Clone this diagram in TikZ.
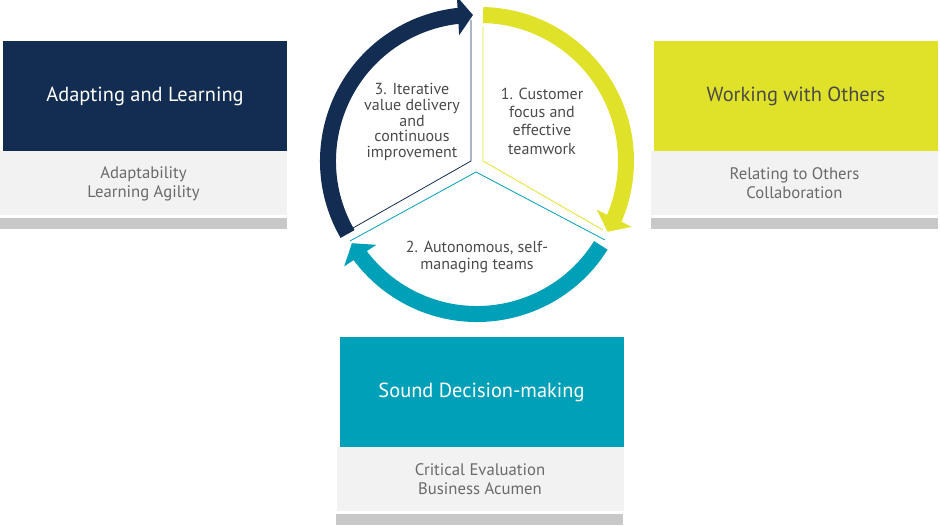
\documentclass[tikz,border=0pt]{standalone}
\usepackage{fontspec}
\setmainfont{PT Sans}
\usetikzlibrary{arrows.meta,bending,positioning}
\definecolor{navy}{HTML}{132D52}
\definecolor{lime}{HTML}{E0E22A}
\definecolor{tealblue}{HTML}{00A0B8}
\definecolor{paleg}{HTML}{F2F2F2}
\definecolor{barg}{HTML}{C8C8C8}
\definecolor{txtg}{HTML}{6A6A6A}
\definecolor{darkg}{HTML}{4A4A4A}

\begin{document}
\begin{tikzpicture}[
    x=1pt, y=1pt,
    head/.style={minimum width=284pt, minimum height=110pt, inner sep=0pt,
      font=\fontsize{20.4}{24}\selectfont},
    sub/.style={fill=paleg, minimum width=287pt, minimum height=64pt, inner sep=0pt,
      align=center, text=txtg, font=\fontsize{16.7}{19}\selectfont},
    ring/.style={line width=16pt, -{Triangle[width=38pt,length=15pt]}},
    edge/.style={line width=0.8pt},
    cyc/.style={align=center, text=darkg, font=\fontsize{16}{15.8}\selectfont}]
    \useasboundingbox (0,0) rectangle (940,525);

    % competency boxes
    \node[head, fill=navy, text=white] (adapt) at (145,429) {Adapting and Learning};
    \node[sub, anchor=north east] (adaptsub) at (adapt.south east) {Adaptability\\Learning Agility};
    \fill[barg] ([yshift=-2pt]adaptsub.south west) rectangle ++(287,-11);

    \node[head, fill=lime, text=darkg] (work) at (796,429) {Working with Others};
    \node[sub, anchor=north east] (worksub) at (work.south east) {Relating to Others\\Collaboration};
    \fill[barg] ([yshift=-2pt]worksub.south west) rectangle ++(287,-11);

    \node[head, fill=tealblue, text=white] (sound) at (481.5,133) {Sound Decision-making};
    \node[sub, anchor=north east] (soundsub) at (sound.south east) {Critical Evaluation\\Business Acumen};
    \fill[barg] ([yshift=-2pt]soundsub.south west) rectangle ++(287,-11);

    % cycle
    \coordinate (c1) at (480,364);
    \coordinate (c2) at (477,357);
    \coordinate (c3) at (474,364);
    \coordinate (v1) at (483,364);
    \coordinate (v2) at (476,353);
    \coordinate (v3) at (471,364);

    \draw[edge, lime] (483,498) -- (v1) -- (603,295);
    \draw[edge, tealblue] (350,284) -- (v2) -- (605,285);
    \draw[edge, navy] (471,505) -- (v3) -- (353,297);

    \draw[ring, lime] (c1) ++(88.8:146) arc[start angle=88.8, end angle=-29, radius=146];
    \draw[ring, tealblue] (c2) ++(-32:146) arc[start angle=-32, end angle=-149, radius=146];
    \draw[ring, navy] (c3) ++(210:146) arc[start angle=210, end angle=90.4, radius=146];

    \node[cyc, font=\fontsize{16}{18.3}\selectfont] (one) at (542,404) {1. Customer\\focus and\\effective\\teamwork};
    \node[cyc, font=\fontsize{16}{16.7}\selectfont] (two) at (477,268) {2. Autonomous, self-\\managing teams};
    \node[cyc] (three) at (412,403) {3. Iterative\\value delivery\\and\\continuous\\improvement};
\end{tikzpicture}
\end{document}
